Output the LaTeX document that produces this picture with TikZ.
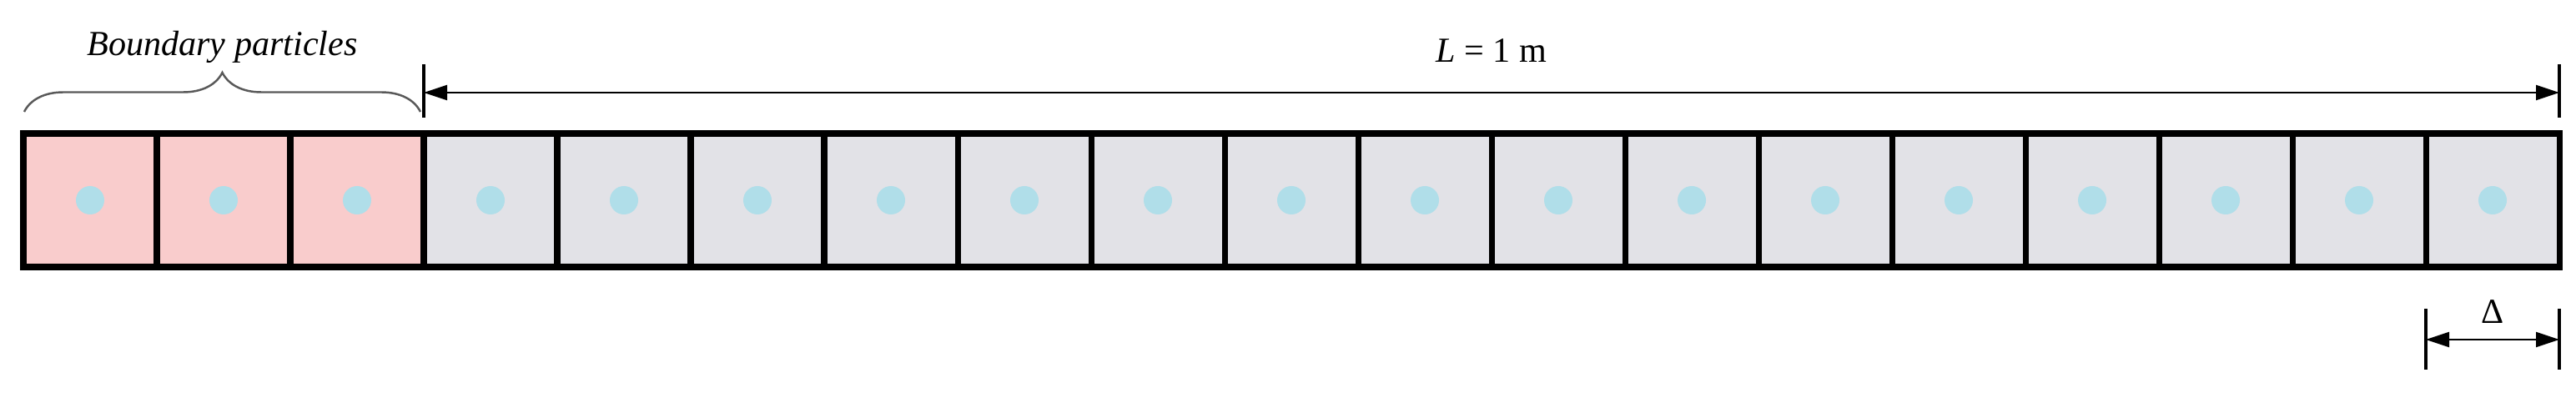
\documentclass[tikz,border=0pt]{standalone}
\usepackage{fontspec}
\setmainfont{Liberation Serif}
\usetikzlibrary{arrows.meta,calc,decorations.pathreplacing}

\definecolor{wallred}{RGB}{249,204,204}
\definecolor{fluidgray}{RGB}{226,226,231}
\definecolor{dotblue}{RGB}{176,222,233}

\begin{document}
\begin{tikzpicture} [cell/.style={rectangle,draw,line width=2pt,minimum size=1.6cm,inner sep=0pt,outer sep=0pt},
  wall/.style={cell,fill=wallred},
  fluid/.style={cell,fill=fluidgray},
  dot/.style={circle,fill=dotblue,minimum size=0.34cm,inner sep=0pt},
  tick/.style={line width=1.1pt},
  dim/.style={line width=0.6pt,{Triangle[length=2.8mm,width=1.8mm]}-{Triangle[length=2.8mm,width=1.8mm]}},
  brace/.style={decorate,decoration={brace,amplitude=0.47cm},line width=0.7pt,black!65},
  lbl/.style={font=\fontsize{12}{14}\selectfont,anchor=base,inner sep=0pt}]
\useasboundingbox (0,0) rectangle (30.88,4.76);
% boundary cells, then fluid cells
\foreach \i in {1,2,3}
  \node [wall] (c\i) at (1.6*\i-0.52,2.36) {};
\foreach \i in {4,...,19}
  \node [fluid] (c\i) at (1.6*\i-0.52,2.36) {};
\foreach \i in {1,...,19}
  \node [dot] (p\i) at (c\i) {};
% brace over the boundary particles
\coordinate (bL) at ($(c1.north west)+(0.01,0.26)$);
\coordinate (bR) at ($(c3.north east)+(-0.04,0.26)$);
\draw [brace] (bL) -- (bR);
\node [lbl,font=\fontsize{12}{14}\selectfont\itshape] (blab) at ($(bL)!0.5!(bR)+(0,0.67)$) {Boundary particles};
% domain length
\coordinate (Ls) at ($(c3.north east)+(0,0.49)$);
\coordinate (Le) at ($(c19.north east)+(0,0.49)$);
\draw [tick] ($(Ls)+(0,0.34)$) -- ($(Ls)+(0,-0.30)$);
\draw [tick] ($(Le)+(0,0.34)$) -- ($(Le)+(0,-0.30)$);
\draw [dim] (Ls) -- (Le);
\node [lbl] (Llab) at ($(Ls)!0.5!(Le)+(0,0.36)$) {\textit{L} = 1 m};
% particle spacing
\coordinate (ds) at ($(c19.south west)+(0,-0.87)$);
\coordinate (de) at ($(c19.south east)+(0,-0.87)$);
\draw [tick] ($(ds)+(0,0.37)$) -- ($(ds)+(0,-0.36)$);
\draw [tick] ($(de)+(0,0.37)$) -- ($(de)+(0,-0.36)$);
\draw [dim] (ds) -- (de);
\node [lbl] (dlab) at ($(ds)!0.5!(de)+(0,0.20)$) {Δ};
\end{tikzpicture}
\end{document}
